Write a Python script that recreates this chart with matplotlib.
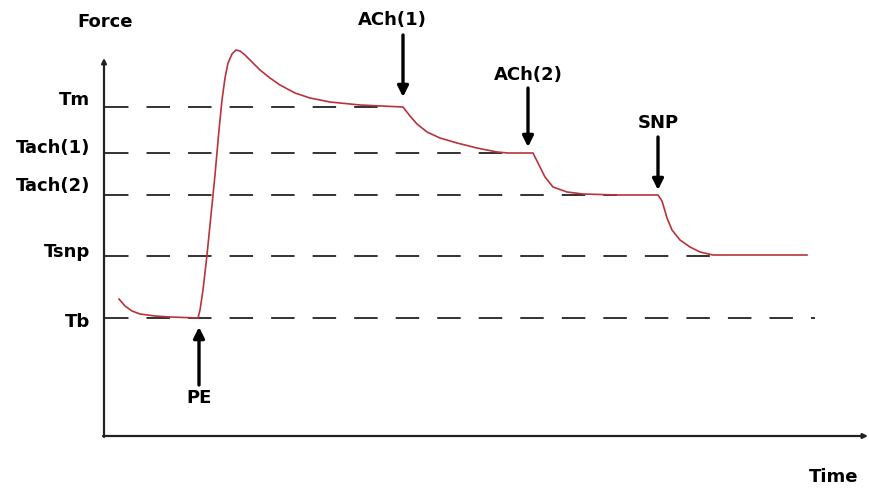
import matplotlib
matplotlib.use("Agg")
import matplotlib.pyplot as plt

# ---- data (time units, force units; origin at the axes corner) ----
level_names = ["Tm", "Tach(1)", "Tach(2)", "Tsnp", "Tb"]
level_values = [329, 283, 241, 180, 118]
level_line_end = [286, 411, 513, 611, 711]
level_label_y = [336, 288, 250, 184, 114]

time = [15, 21, 28, 36, 51, 66, 94,
        96, 99, 103, 107, 111, 115, 118, 121, 124, 128, 132, 136, 141, 148,
        156, 166, 176, 191, 206, 226, 256, 299,
        306, 313, 323, 336, 353, 373, 393, 404, 429,
        434, 441, 449, 463, 479, 513, 554,
        558, 563, 568, 576, 586, 596, 609, 703]
force = [137, 130, 125, 122, 120, 119, 118,
         126, 146, 181, 221, 261, 306, 336, 358, 373, 382, 386, 385, 381, 374,
         366, 358, 351, 343, 338, 334, 331, 329,
         320, 312, 304, 298, 293, 288, 284, 283, 283,
         273, 259, 249, 244, 242, 241, 241,
         235, 218, 206, 196, 189, 184, 181, 181]

events = ["PE", "ACh(1)", "ACh(2)", "SNP"]
event_time = [95, 299, 424, 554]
event_tail = [51, 401, 348, 299]
event_tip = [109, 339, 289, 246]
event_label_x = [95, 288, 424, 554]
event_label_y = [38, 416, 361, 313]

FONT = "DejaVu Sans"
FS = 13

fig = plt.figure(figsize=(8.69, 4.9), dpi=100)
ax = fig.add_axes([0, 0, 1, 1])
ax.set_xlim(-104, 765)
ax.set_ylim(-54, 436)
ax.axis("off")

# axes with arrows
ax.annotate("", xy=(0, 378), xytext=(0, -1),
            arrowprops=dict(arrowstyle="-|>", lw=1.6, color="#222222",
                            mutation_scale=7, shrinkA=0, shrinkB=0))
ax.annotate("", xy=(764, 0), xytext=(-1, 0),
            arrowprops=dict(arrowstyle="-|>", lw=1.6, color="#222222",
                            mutation_scale=7, shrinkA=0, shrinkB=0))

# dashed reference levels
for name, val, end, ly in zip(level_names, level_values, level_line_end, level_label_y):
    ax.plot([1, end], [val, val], color="#222222", lw=1.3,
            dashes=(13, 10), solid_capstyle="butt")
    ax.text(-14, ly, name, ha="right", va="center", fontsize=FS,
            fontweight="bold", family=FONT)

# force trace
ax.plot(time, force, color="#b8333c", lw=1.2, zorder=3)

# event arrows
for name, t, tail, tip, lx, ly in zip(events, event_time, event_tail, event_tip,
                                      event_label_x, event_label_y):
    ax.annotate("", xy=(t, tip), xytext=(t, tail),
                arrowprops=dict(arrowstyle="-|>", lw=2.4, color="black",
                                mutation_scale=16, shrinkA=0, shrinkB=0))
    ax.text(lx, ly, name, ha="center", va="center", fontsize=FS,
            fontweight="bold", family=FONT)

ax.text(1, 414, "Force", ha="center", va="center", fontsize=FS,
        fontweight="bold", family=FONT)
ax.text(730, -41, "Time", ha="center", va="center", fontsize=FS,
        fontweight="bold", family=FONT)

fig.savefig("out.png", dpi=100, facecolor="white")
